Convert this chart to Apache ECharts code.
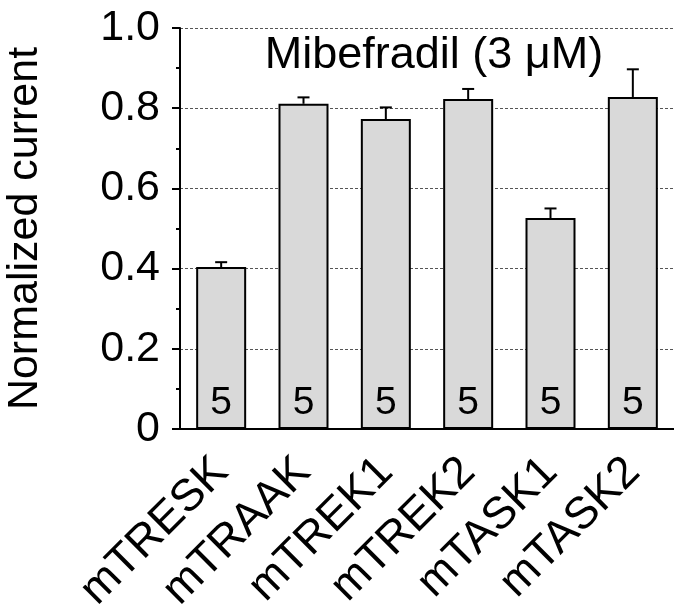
<!DOCTYPE html>
<html>
<head>
<meta charset="utf-8">
<script src="https://cdn.jsdelivr.net/npm/echarts@6/dist/echarts.min.js"></script>
<style>
  html, body { margin: 0; padding: 0; background: #fff; }
  #chart { width: 674px; height: 616px; }
</style>
</head>
<body>
<div id="chart"></div>
<script>
// Channels tested
const channels = ['mTRESK', 'mTRAAK', 'mTREK1', 'mTREK2', 'mTASK1', 'mTASK2'];
// Mean normalized current with 3 µM mibefradil
const meanCurrent = [0.404, 0.811, 0.773, 0.823, 0.526, 0.828];
// Standard error (upper bar only)
const semCurrent = [0.012, 0.016, 0.029, 0.025, 0.024, 0.069];
// Number of cells per channel
const cellCounts = [5, 5, 5, 5, 5, 5];
// Y axis ticks
const yTicks = [0, 0.2, 0.4, 0.6, 0.8, 1.0];

const FONT = '"Liberation Sans", Arial, Helvetica, sans-serif';

const chart = echarts.init(document.getElementById('chart'), null, { renderer: 'canvas' });

const errData = channels.map((c, i) => [i, meanCurrent[i], meanCurrent[i] + semCurrent[i]]);

chart.setOption({
  animation: false,
  backgroundColor: '#ffffff',
  grid: { left: 180, right: 0, top: 28, height: 401, containLabel: false, outerBoundsMode: 'none' },
  graphic: [{
    type: 'text',
    x: 434,
    y: 56,
    style: {
      text: 'Mibefradil (3 \u03bcM)',
      font: '45px ' + FONT,
      fill: '#000',
      textAlign: 'center',
      textVerticalAlign: 'middle'
    },
    z: 100
  }],
  xAxis: {
    type: 'category',
    data: channels,
    axisLine: { lineStyle: { color: '#000', width: 2 } },
    axisTick: { show: false },
    axisLabel: {
      rotate: 45,
      interval: 0,
      margin: 36,
      color: '#000',
      fontSize: 45,
      fontFamily: FONT
    }
  },
  yAxis: {
    type: 'value',
    min: yTicks[0],
    max: yTicks[yTicks.length - 1],
    interval: 0.2,
    name: 'Normalized current',
    nameLocation: 'middle',
    nameGap: 133,
    nameTextStyle: { fontSize: 43, fontFamily: FONT, color: '#000' },
    axisLine: { show: true, lineStyle: { color: '#000', width: 2 } },
    axisTick: { show: true, inside: false, length: 8, lineStyle: { color: '#000', width: 2 } },
    minorTick: { show: true, splitNumber: 2, length: 4, lineStyle: { color: '#000', width: 2 } },
    splitLine: {
      show: true,
      lineStyle: { color: '#555', width: 1, type: [3, 2] }
    },
    axisLabel: {
      margin: 20,
      color: '#000',
      fontSize: 43,
      fontFamily: FONT,
      formatter: v => (v === 0 ? '0' : v.toFixed(1))
    }
  },
  series: [
    {
      type: 'bar',
      data: meanCurrent,
      barWidth: 50,
      itemStyle: { color: '#d9d9d9', borderColor: '#000', borderWidth: 2 },
      label: {
        show: true,
        position: 'insideBottom',
        distance: 6,
        formatter: p => String(cellCounts[p.dataIndex]),
        color: '#000',
        fontSize: 39,
        fontFamily: FONT
      },
      z: 2
    },
    {
      type: 'custom',
      data: errData,
      z: 3,
      renderItem: (params, api) => {
        const x = api.value(0);
        const lo = api.coord([x, api.value(1)]);
        const hi = api.coord([x, api.value(2)]);
        const half = 6;
        const style = { stroke: '#000', lineWidth: 2 };
        return {
          type: 'group',
          children: [
            { type: 'line', shape: { x1: lo[0], y1: lo[1], x2: hi[0], y2: hi[1] }, style },
            { type: 'line', shape: { x1: hi[0] - half, y1: hi[1], x2: hi[0] + half, y2: hi[1] }, style }
          ]
        };
      }
    }
  ]
});
</script>
</body>
</html>
